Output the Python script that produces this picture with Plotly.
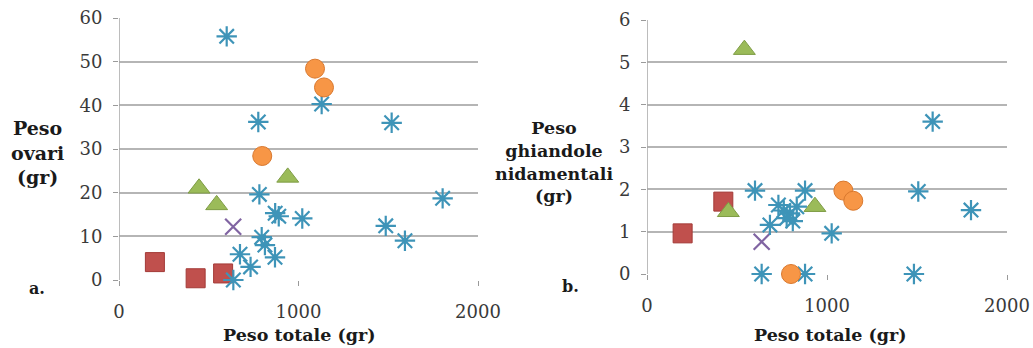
import plotly.graph_objects as go

# ---- Panel a: ovary weight vs total weight ----
a_sq_x = [200, 427, 580]
a_sq_y = [4.1, 0.4, 1.5]
a_tri_x = [446, 544, 940]
a_tri_y = [21.0, 17.2, 23.5]
a_x_x = [636]
a_x_y = [12.2]
a_circ_x = [1092, 1142, 798]
a_circ_y = [48.4, 44.1, 28.4]
a_ast_x = [600, 776, 1129, 1519, 782, 870, 890, 1021, 1486, 1593, 1803, 795, 813, 674, 733, 869, 637]
a_ast_y = [55.8, 36.2, 40.3, 36.0, 19.6, 15.3, 14.6, 14.1, 12.4, 9.0, 18.7, 9.8, 8.0, 5.9, 3.0, 5.2, 0.0]

# ---- Panel b: nidamental gland weight vs total weight ----
b_sq_x = [198, 424]
b_sq_y = [0.96, 1.71]
b_tri_x = [541, 452, 933]
b_tri_y = [5.3, 1.47, 1.59]
b_x_x = [637]
b_x_y = [0.76]
b_circ_x = [1091, 1146, 800]
b_circ_y = [1.97, 1.73, 0.0]
b_ast_x = [600, 878, 730, 794, 776, 683, 832, 810, 760, 1026, 637, 878, 1587, 1507, 1800, 1483]
b_ast_y = [1.97, 1.97, 1.63, 1.43, 1.32, 1.16, 1.59, 1.25, 1.50, 0.96, 0.0, 0.0, 3.6, 1.95, 1.51, 0.0]

x_ticks = [0, 1000, 2000]
a_y_ticks = [0, 10, 20, 30, 40, 50, 60]
b_y_ticks = [0, 1, 2, 3, 4, 5, 6]

RED, GREEN, PURPLE, AQUA, ORANGE = "#C0504D", "#9BBB59", "#8064A2", "#3E94B8", "#F79646"

W, H = 1033, 348
SERIF = "DejaVu Serif"


def series(xs, ys, symbol, color, size, line_color, lw, xa, ya):
    return go.Scatter(
        x=xs, y=ys, mode="markers", xaxis=xa, yaxis=ya, cliponaxis=False,
        showlegend=False, hoverinfo="skip",
        marker=dict(symbol=symbol, size=size, color=color,
                    line=dict(color=line_color, width=lw)),
    )


fig = go.Figure()
for xa, ya, d in [
    ("x", "y", (a_sq_x, a_sq_y, a_tri_x, a_tri_y, a_x_x, a_x_y, a_circ_x, a_circ_y, a_ast_x, a_ast_y)),
    ("x2", "y2", (b_sq_x, b_sq_y, b_tri_x, b_tri_y, b_x_x, b_x_y, b_circ_x, b_circ_y, b_ast_x, b_ast_y)),
]:
    sqx, sqy, trx, tr_y, xx, xy, cx, cy, ax_, ay_ = d
    fig.add_trace(series(sqx, sqy, "square", RED, 19, "#A33A37", 1, xa, ya))
    fig.add_trace(series(trx, tr_y, "triangle-up", GREEN, 19, "#7E9C45", 1, xa, ya))
    fig.add_trace(series(xx, xy, "x-thin-open", PURPLE, 16, PURPLE, 2.2, xa, ya))
    fig.add_trace(series(ax_, ay_, "asterisk-open", AQUA, 17, AQUA, 2.2, xa, ya))
    fig.add_trace(series(cx, cy, "circle", ORANGE, 19, "#D9782E", 1, xa, ya))


def px(v):
    return v / W


def py(v):
    return 1 - v / H


axis_common = dict(
    zeroline=False, showline=False, automargin=False,
    ticks="outside", ticklen=5, tickcolor="#9a9a9a",
    tickfont=dict(family=SERIF, size=18, color="#3a3a3a"),
)

grid_color = "#b5b5b5"

fig.update_layout(
    template="none",
    width=W, height=H, margin=dict(l=0, r=0, t=0, b=0),
    paper_bgcolor="white", plot_bgcolor="white",
    xaxis=dict(domain=[px(119), px(478)], range=[0, 2000], tickvals=x_ticks,
               anchor="y", showgrid=False, ticklabelstandoff=10, **axis_common),
    yaxis=dict(domain=[py(280), py(18)], range=[0, 60], tickvals=a_y_ticks,
               anchor="x", showgrid=True, gridcolor=grid_color, gridwidth=1.5,
               ticklabelstandoff=7, **axis_common),
    xaxis2=dict(domain=[px(647), px(1007)], range=[0, 2000], tickvals=x_ticks,
                anchor="y2", showgrid=False, ticklabelstandoff=10, **axis_common),
    yaxis2=dict(domain=[py(274), py(20)], range=[0, 6], tickvals=b_y_ticks,
                anchor="x2", showgrid=True, gridcolor=grid_color, gridwidth=1.5,
                ticklabelstandoff=7, **axis_common),
)

# vertical axis lines
fig.add_shape(type="line", xref="x", yref="paper", x0=0, x1=0, y0=py(280), y1=py(18),
              line=dict(color="#a6a6a6", width=1.5))
fig.add_shape(type="line", xref="x2", yref="paper", x0=0, x1=0, y0=py(274), y1=py(20),
              line=dict(color="#a6a6a6", width=1.5))

ann = [
    dict(text="<b>Peso totale (gr)</b>", x=px(299), y=py(335), size=17.5),
    dict(text="<b>Peso totale (gr)</b>", x=px(830), y=py(335), size=17.5),
    dict(text="<b>Peso<br>ovari<br>(gr)</b>", x=px(37), y=py(152), size=19),
    dict(text="<b>Peso<br>ghiandole<br>nidamentali<br>(gr)</b>", x=px(554), y=py(162), size=17.5),
    dict(text="<b>a.</b>", x=px(37), y=py(288), size=16),
    dict(text="<b>b.</b>", x=px(570), y=py(286), size=16),
]
for a in ann:
    size = a.pop("size")
    fig.add_annotation(xref="paper", yref="paper", showarrow=False,
                       xanchor="center", yanchor="middle", align="center",
                       font=dict(family=SERIF, size=size, color="#1a1a1a"), **a)

fig.write_html("out.html")
